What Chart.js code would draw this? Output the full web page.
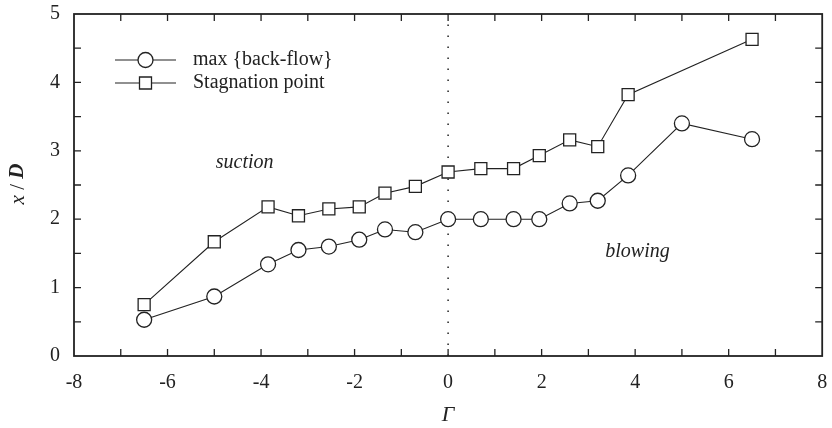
<!DOCTYPE html>
<html>
<head>
<meta charset="utf-8">
<script src="https://cdn.jsdelivr.net/npm/chart.js@4.4.1/dist/chart.umd.min.js"></script>
<style>
  html, body { margin: 0; padding: 0; background: #fff; }
  #wrap { width: 832px; height: 428px; }
</style>
</head>
<body>
<div id="wrap"><canvas id="mycanvas" width="832" height="428"></canvas></div>
<script>
// data
var gammaBack = [-6.5, -5.0, -3.85, -3.2, -2.55, -1.9, -1.35, -0.7, 0.0, 0.7, 1.4, 1.95, 2.6, 3.2, 3.85, 5.0, 6.5];
var backFlow  = [0.53, 0.87, 1.34, 1.55, 1.60, 1.70, 1.85, 1.81, 2.0, 2.0, 2.0, 2.0, 2.23, 2.27, 2.64, 3.40, 3.17];

var gammaStag = [-6.5, -5.0, -3.85, -3.2, -2.55, -1.9, -1.35, -0.7, 0.0, 0.7, 1.4, 1.95, 2.6, 3.2, 3.85, 6.5];
var stagPoint = [0.75, 1.67, 2.18, 2.05, 2.15, 2.18, 2.38, 2.48, 2.69, 2.74, 2.74, 2.93, 3.16, 3.06, 3.82, 4.63];

var seriesNames = ["max {back-flow}", "Stagnation point"];
var regionLabels = [
  { text: "suction", x: -4.35, y: 2.82 },
  { text: "blowing", x: 4.05, y: 1.52 }
];

var ink = "#222";
var serif = "'Liberation Serif', 'DejaVu Serif', serif";

function toPoints(xs, ys) {
  var pts = [];
  for (var i = 0; i < xs.length; i++) pts.push({ x: xs[i], y: ys[i] });
  return pts;
}

// frame, inward ticks, zero line, titles, labels, legend
var decor = {
  id: "decor",
  beforeDatasetsDraw: function(chart) {
    var ctx = chart.ctx, xs = chart.scales.x, ys = chart.scales.y;
    var x0 = xs.getPixelForValue(0);
    ctx.save();
    ctx.strokeStyle = ink;
    ctx.lineWidth = 1.5;
    ctx.setLineDash([1.5, 9.5]);
    ctx.beginPath();
    ctx.moveTo(x0, ys.getPixelForValue(0));
    ctx.lineTo(x0, ys.getPixelForValue(5));
    ctx.stroke();
    ctx.restore();
  },
  afterDraw: function(chart) {
    var ctx = chart.ctx, xs = chart.scales.x, ys = chart.scales.y;
    var a = chart.chartArea;
    var tl = 7, v, p;
    ctx.save();
    ctx.strokeStyle = ink;
    ctx.lineWidth = 1.8;
    ctx.strokeRect(a.left, a.top, a.right - a.left, a.bottom - a.top);
    ctx.lineWidth = 1.3;
    ctx.beginPath();
    for (v = -7; v <= 7; v++) {
      p = xs.getPixelForValue(v);
      ctx.moveTo(p, a.bottom); ctx.lineTo(p, a.bottom - tl);
      ctx.moveTo(p, a.top); ctx.lineTo(p, a.top + tl);
    }
    for (v = 0.5; v < 5; v += 0.5) {
      p = ys.getPixelForValue(v);
      ctx.moveTo(a.left, p); ctx.lineTo(a.left + tl, p);
      ctx.moveTo(a.right, p); ctx.lineTo(a.right - tl, p);
    }
    ctx.stroke();

    ctx.fillStyle = ink;
    ctx.textBaseline = "middle";

    // region labels
    ctx.font = "italic 20px " + serif;
    ctx.textAlign = "center";
    regionLabels.forEach(function(r) {
      ctx.fillText(r.text, xs.getPixelForValue(r.x), ys.getPixelForValue(r.y));
    });

    // x title
    ctx.font = "italic 22px " + serif;
    ctx.fillText("\u0393", xs.getPixelForValue(0), 415);

    // y title: x / D
    ctx.save();
    ctx.translate(18, 184);
    ctx.rotate(-Math.PI / 2);
    var parts = [
      { t: "x", f: "italic 21px " + serif },
      { t: " / ", f: "21px " + serif },
      { t: "D", f: "italic bold 21px " + serif }
    ];
    var total = 0;
    parts.forEach(function(pt) { ctx.font = pt.f; pt.w = ctx.measureText(pt.t).width; total += pt.w; });
    var cx = -total / 2;
    ctx.textAlign = "left";
    parts.forEach(function(pt) { ctx.font = pt.f; ctx.fillText(pt.t, cx, 0); cx += pt.w; });
    ctx.restore();

    // legend
    var rows = [60, 83];
    ctx.font = "20px " + serif;
    ctx.textAlign = "left";
    for (var i = 0; i < 2; i++) {
      var y = rows[i];
      ctx.lineWidth = 1.1;
      ctx.beginPath();
      ctx.moveTo(115, y); ctx.lineTo(176, y);
      ctx.stroke();
      ctx.fillStyle = "#fff";
      ctx.lineWidth = 1.3;
      ctx.beginPath();
      if (i === 0) ctx.arc(145.5, y, 7.5, 0, Math.PI * 2);
      else ctx.rect(139.5, y - 6, 12, 12);
      ctx.fill();
      ctx.stroke();
      ctx.fillStyle = ink;
      ctx.fillText(seriesNames[i], 193, y);
    }
    ctx.restore();
  }
};

var ctx = document.getElementById("mycanvas");

var chartdata = {
  datasets: [
    {
      label: seriesNames[0],
      data: toPoints(gammaBack, backFlow),
      showLine: true,
      borderColor: ink,
      borderWidth: 1.1,
      backgroundColor: "#fff",
      pointStyle: "circle",
      pointRadius: 7.5,
      pointBorderWidth: 1.3,
      pointBorderColor: ink,
      pointBackgroundColor: "#fff",
      lineTension: 0
    },
    {
      label: seriesNames[1],
      data: toPoints(gammaStag, stagPoint),
      showLine: true,
      borderColor: ink,
      borderWidth: 1.1,
      backgroundColor: "#fff",
      pointStyle: "rect",
      pointRadius: 8.5,
      pointBorderWidth: 1.3,
      pointBorderColor: ink,
      pointBackgroundColor: "#fff",
      lineTension: 0
    }
  ]
};

var chart = new Chart(ctx, {
  type: "scatter",
  data: chartdata,
  options: {
    responsive: false,
    animation: false,
    layout: { padding: { top: 14, right: 4, left: 0, bottom: 0 } },
    plugins: { legend: { display: false }, tooltip: { enabled: false } },
    scales: {
      x: {
        type: "linear", min: -8, max: 8,
        grid: { display: false, drawTicks: false },
        border: { display: false },
        ticks: { stepSize: 2, color: ink, padding: 15, font: { family: serif, size: 20 } },
        afterFit: function(s) { s.height = 72; s.paddingLeft = 0; s.paddingRight = 0; }
      },
      y: {
        type: "linear", min: 0, max: 5,
        grid: { display: false, drawTicks: false },
        border: { display: false },
        ticks: { stepSize: 1, color: ink, padding: 14, font: { family: serif, size: 20 } },
        afterFit: function(s) { s.width = 74; s.paddingTop = 0; s.paddingBottom = 0; }
      }
    }
  },
  plugins: [decor]
});
</script>
</body>
</html>
